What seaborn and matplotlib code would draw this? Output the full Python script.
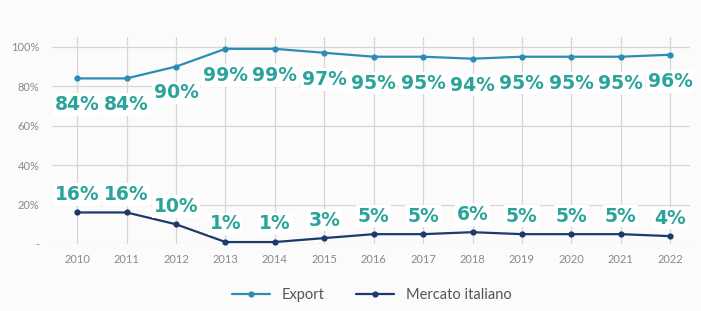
import pandas as pd
import matplotlib.pyplot as plt
import seaborn as sns

# Data
years = [2010, 2011, 2012, 2013, 2014, 2015, 2016, 2017, 2018, 2019, 2020, 2021, 2022]
export = [84, 84, 90, 99, 99, 97, 95, 95, 94, 95, 95, 95, 96]
mercato = [16, 16, 10, 1, 1, 3, 5, 5, 6, 5, 5, 5, 4]
series_names = ["Export", "Mercato italiano"]
ytick_vals = [0, 20, 40, 60, 80, 100]
ytick_labels = ["-", "20%", "40%", "60%", "80%", "100%"]

df = pd.DataFrame({
    "anno": years * 2,
    "quota": export + mercato,
    "serie": [series_names[0]] * len(years) + [series_names[1]] * len(years),
})

sns.set_style("white")
plt.rcParams["font.family"] = ["Lato", "DejaVu Sans"]

fig = plt.figure(figsize=(7.01, 3.11), dpi=100, facecolor="#fbfbfb")
ax = fig.add_axes([0.0742, 0.2154, 0.910, 0.6656])
ax.set_facecolor("#fbfbfb")

colors = {"Export": "#2b8db3", "Mercato italiano": "#1d3a6a"}
sns.lineplot(data=df, x="anno", y="quota", hue="serie", palette=colors,
             marker="o", markersize=4.5, markeredgewidth=0, linewidth=1.6,
             ax=ax, legend=True, clip_on=False)

# Value labels
label_color = "#2aa49b"
lab_kw = dict(textcoords="offset points", ha="center", va="center",
              fontsize=13.5, fontweight="bold", color=label_color,
              family=["DejaVu Sans"],
              bbox=dict(boxstyle="square,pad=0.1", fc="white", ec="none"))
for x, v in zip(years, export):
    ax.annotate(f"{v}%", (x, v), xytext=(0, -19), **lab_kw)
for x, v in zip(years, mercato):
    ax.annotate(f"{v}%", (x, v), xytext=(0, 13), **lab_kw)

ax.set_xlim(2009.49, 2022.4)
ax.set_ylim(0, 105)
ax.set_xticks(years)
ax.set_xticklabels([str(y) for y in years])
ax.set_yticks(ytick_vals)
ax.set_yticklabels(ytick_labels)
ax.tick_params(axis="both", length=0, labelsize=8, labelcolor="#8a8a8a")
ax.tick_params(axis="x", pad=7)
ax.tick_params(axis="y", pad=9)
ax.grid(True, color="#d6d6d6", linewidth=0.9)
ax.set_axisbelow(True)
for s in ax.spines.values():
    s.set_visible(False)
ax.set_xlabel("")
ax.set_ylabel("")

handles, labels = ax.get_legend_handles_labels()
ax.legend_.remove()
fig.legend(handles, labels, loc="center", bbox_to_anchor=(0.53, 0.05), ncol=2,
           frameon=False, fontsize=10.5, labelcolor="#555555",
           handlelength=2.6, columnspacing=2.2)

fig.savefig("out.png", dpi=100, facecolor=fig.get_facecolor())
